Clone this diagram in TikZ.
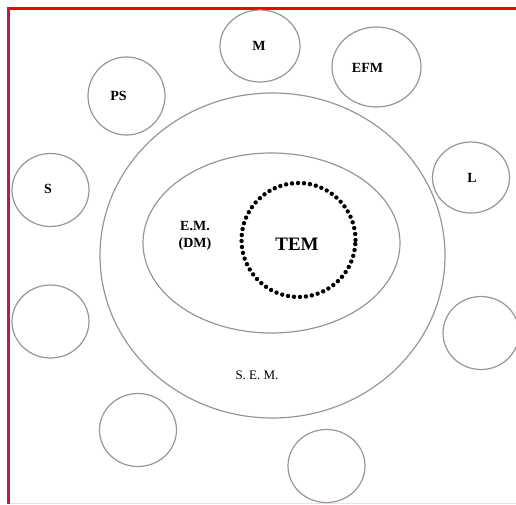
\documentclass[tikz,border=0pt]{standalone}
\usepackage{fontspec}
\setmainfont{Liberation Serif}
\usepackage{tikz}
\usetikzlibrary{shapes.geometric}
\definecolor{ringgray}{RGB}{150, 150, 150}
\definecolor{framered}{RGB}{240, 0, 0}
\definecolor{framecrimson}{RGB}{180, 30, 70}

\begin{document}
\begin{tikzpicture}[
        x=1pt, y=-1pt,
        ring/.style={draw=ringgray, line width=1.2pt, ellipse, inner sep=0pt},
        smallring/.style={ring, minimum width=77pt, minimum height=73pt},
        dotring/.style={draw=black, circle, inner sep=0pt, line width=4.4pt,
                        line cap=round, dash pattern=on 0pt off 6pt},
        lbl/.style={font=\bfseries\fontsize{14}{16}\selectfont, inner sep=0pt}
      ]
        \useasboundingbox (0,0) rectangle (516,504);
        % frame
        \draw[framered, line width=3.5pt] (7,8.5) -- (516,8.5);
        \draw[framecrimson, line width=3pt] (8.5,7) -- (8.5,504);
        \draw[red!15, line width=1pt] (10,503) -- (516,503);
        % nested rings
        \node[ring, minimum width=345pt, minimum height=325pt] (sem) at (272.5,255.5) {};
        \node[ring, minimum width=257pt, minimum height=180pt] (em) at (271.5,243) {};
        \node[dotring, minimum size=114pt] (tem) at (298.5,240) {};
        \node[lbl, font=\bfseries\fontsize{19}{21}\selectfont] (tem-txt) at (297,244) {TEM};
        \node[lbl, align=center, font=\bfseries\fontsize{14}{17}\selectfont] (em-txt) at (195,236) {E.M.\\(DM)};
        \node[lbl, font=\fontsize{13}{15}\selectfont] (sem-txt) at (257,375) {S. E. M.};
        % outer small rings
        \node[smallring, minimum width=80pt, minimum height=72pt] (m) at (260,46) {};
        \node[smallring, minimum width=89pt, minimum height=80pt] (efm) at (376.5,67) {};
        \node[smallring, minimum height=78pt] (ps) at (126.5,96) {};
        \node[smallring] (s) at (50.5,190) {};
        \node[smallring, minimum height=71pt] (l) at (471,177.5) {};
        \node[smallring] (left) at (50.5,321.5) {};
        \node[smallring, minimum width=76pt] (right) at (481,333) {};
        \node[smallring] (botleft) at (138,430) {};
        \node[smallring] (botright) at (326.5,466) {};
        \node[lbl] (m-txt) at (259,46) {M};
        \node[lbl] (efm-txt) at (367.5,68) {EFM};
        \node[lbl] (ps-txt) at (118.5,96) {PS};
        \node[lbl] (s-txt) at (48,189) {S};
        \node[lbl] (l-txt) at (472,178) {L};
      \end{tikzpicture}
\end{document}
